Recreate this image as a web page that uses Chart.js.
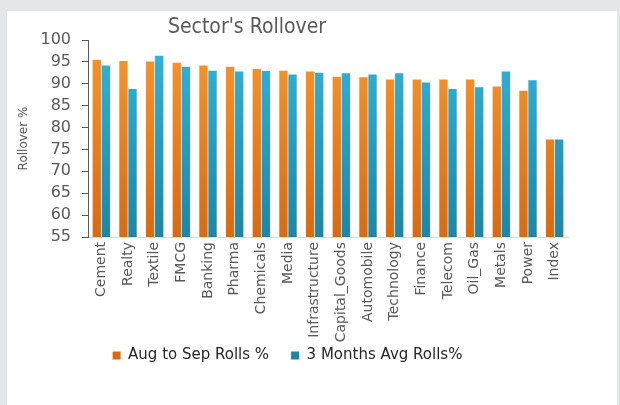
<!DOCTYPE html>
<html lang="en">
<head>
    <meta charset="UTF-8">
    <title>Sector's Rollover</title>
    <script src="https://cdn.jsdelivr.net/npm/chart.js"></script>
    <style>
        html, body { margin: 0; padding: 0; background: #e5e6e8; }
        #box { position: absolute; left: 7px; top: 11px; width: 610px; height: 394px; background: #fff; }
    </style>
</head>
<body>
    <div id="box"><canvas id="myChart" width="610" height="394"></canvas></div>

    <script>
        const sectors = ['Cement', 'Realty', 'Textile', 'FMCG', 'Banking', 'Pharma', 'Chemicals', 'Media',
            'Infrastructure', 'Capital_Goods', 'Automobile', 'Technology', 'Finance', 'Telecom',
            'Oil_Gas', 'Metals', 'Power', 'Index'];
        const augToSep = [95.5, 95.2, 95.1, 94.8, 94.2, 93.9, 93.4, 93.0, 92.8, 91.6, 91.5, 91.0, 91.0, 91.0, 91.0, 89.4, 88.4, 77.3];
        const threeMonthAvg = [94.2, 88.8, 96.4, 93.9, 93.0, 92.8, 92.9, 92.1, 92.5, 92.4, 92.1, 92.4, 90.3, 88.8, 89.2, 92.8, 90.8, 77.3];
        const yTicks = [55, 60, 65, 70, 75, 80, 85, 90, 95, 100];

        const narrow = "'Liberation Sans Narrow', 'DejaVu Sans Condensed', sans-serif";
        const wide = "'DejaVu Sans', sans-serif";

        // vertical gradient for the bars
        const grad = (top, bottom) => (c) => {
            const area = c.chart.chartArea;
            if (!area) return top;
            const g = c.chart.ctx.createLinearGradient(0, area.top, 0, area.bottom);
            g.addColorStop(0, top);
            g.addColorStop(1, bottom);
            return g;
        };

        // title is placed off-centre in the original, so draw it here
        const titlePlugin = {
            id: 'titlePlugin',
            afterDraw: (chart) => {
                const { ctx } = chart;
                ctx.save();
                ctx.fillStyle = '#595959';
                ctx.font = '21px ' + narrow;
                ctx.textAlign = 'center';
                ctx.textBaseline = 'middle';
                ctx.fillText("Sector's Rollover", 240, 17);
                ctx.restore();
            }
        };

        const data = {
            labels: sectors,
            datasets: [
                {
                    label: 'Aug to Sep Rolls %',
                    data: augToSep,
                    backgroundColor: grad('#f9962c', '#d76b12'),
                },
                {
                    label: '3 Months Avg Rolls%',
                    data: threeMonthAvg,
                    backgroundColor: grad('#33b4dc', '#1d86a6'),
                }
            ]
        };

        const config = {
            type: 'bar',
            data: data,
            options: {
                responsive: false,
                animation: false,
                categoryPercentage: 0.68,
                barPercentage: 0.92,
                layout: { padding: { top: 29, right: 49, bottom: 32, left: 0 } },
                plugins: {
                    legend: {
                        position: 'bottom',
                        labels: {
                            boxWidth: 8,
                            boxHeight: 8,
                            padding: 4,
                            color: '#262626',
                            font: { size: 15, family: wide },
                            // small padding keeps the legend close to the axis, so widen the gap between items here
                            generateLabels: (chart) => Chart.defaults.plugins.legend.labels.generateLabels(chart)
                                .map((l, i) => ({ ...l, text: i === 0 ? l.text + '\u2003\u2009' : l.text }))
                        }
                    },
                    title: { display: false },
                    tooltip: { enabled: false }
                },
                scales: {
                    x: {
                        grid: { display: false, drawTicks: false, tickLength: 0 },
                        border: { color: '#d9d9d9' },
                        ticks: {
                            minRotation: 90,
                            maxRotation: 90,
                            autoSkip: false,
                            color: '#595959',
                            padding: 5,
                            font: { size: 14, family: wide }
                        },
                        afterFit: (s) => { s.height = 107; }
                    },
                    y: {
                        min: 55,
                        max: 100,
                        afterBuildTicks: (s) => { s.ticks = yTicks.map(v => ({ value: v })); },
                        grid: { drawOnChartArea: false, tickLength: 6, color: '#595959' },
                        border: { color: '#595959' },
                        ticks: {
                            autoSkip: false,
                            color: '#595959',
                            padding: 11,
                            font: { size: 16, family: wide }
                        },
                        title: {
                            display: true,
                            text: 'Rollover %',
                            color: '#595959',
                            font: { size: 12, family: wide },
                            padding: { top: 10, bottom: 6 }
                        },
                        afterFit: (s) => { s.width = 81; }
                    }
                }
            },
            plugins: [titlePlugin]
        };

        new Chart(document.getElementById('myChart').getContext('2d'), config);
    </script>
</body>
</html>
